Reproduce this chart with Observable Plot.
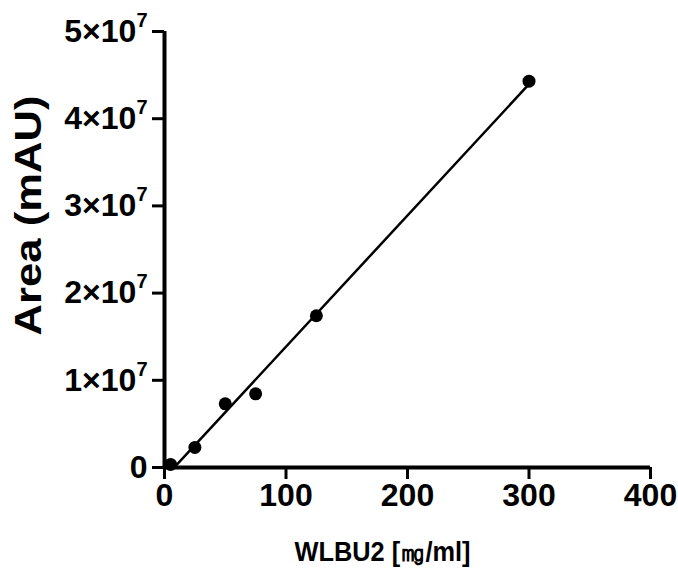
<!DOCTYPE html>
<html><head><meta charset="utf-8">
<script src="https://cdn.jsdelivr.net/npm/d3@7"></script>
<script src="https://cdn.jsdelivr.net/npm/@observablehq/plot@0.6"></script>
<style>body{margin:0;background:#fff}</style>
</head><body><div id="chart"></div>
<script>
const concentration = [5, 25, 50, 75, 125, 300];
const area = [3.5e5, 2.3e6, 7.3e6, 8.45e6, 1.74e7, 4.43e7];
const xTicks = [0, 100, 200, 300, 400];
const yTicks = [0, 1e7, 2e7, 3e7, 4e7, 5e7];
const yTickLabels = ["0", "1×10^7", "2×10^7", "3×10^7", "4×10^7", "5×10^7"];
const xTitle = "WLBU2 [㎎/ml]";
const yTitle = "Area (mAU)";
const data = concentration.map((c, i) => ({c, a: area[i]}));

const chart = Plot.plot({
  width: 678, height: 572,
  marginLeft: 164, marginRight: 28, marginTop: 31, marginBottom: 105,
  style: {fontFamily: "'Liberation Sans', Arial, sans-serif", background: "white", color: "black"},
  x: {domain: [0, 400]},
  y: {domain: [0, 5e7]},
  marks: [
    Plot.axisX({ticks: xTicks, tickSize: 12, tickPadding: 4, strokeWidth: 3, fontSize: 32, label: null}),
    Plot.axisY({ticks: yTicks, tickSize: 12, tickPadding: 5, strokeWidth: 3, fontSize: 32, label: null,
      tickFormat: d => yTickLabels[yTicks.indexOf(d)]}),
    Plot.ruleX([0], {strokeWidth: 4}),
    Plot.ruleY([0], {strokeWidth: 4}),
    Plot.linearRegressionY(data, {x: "c", y: "a", ci: 0, stroke: "black", strokeWidth: 2.5, clip: true}),
    Plot.dot(data, {x: "c", y: "a", r: 6.5, fill: "black"}),
    Plot.text([yTitle], {frameAnchor: "left", textAnchor: "middle", lineAnchor: "middle", rotate: -90, dx: -135, dy: -34, fontSize: 37, fontWeight: "bold"}),
    Plot.text([xTitle], {frameAnchor: "bottom", textAnchor: "middle", lineAnchor: "middle", dx: -25, dy: 85, fontSize: 28, fontWeight: "bold"})
  ]
});

const svg = d3.select(chart);
svg.selectAll("text").style("font-weight", "bold");
svg.selectAll('g[aria-label="x-axis tick label"] text').style("font-size", "32px").style("font-family", "'Liberation Sans', Arial, sans-serif");
svg.selectAll('g[aria-label="y-axis tick label"] text').style("font-size", "32px").style("font-family", "'Liberation Sans', Arial, sans-serif");
svg.selectAll('g[aria-label="y-axis tick label"] text').each(function() {
  const t = this.textContent;
  if (t.includes("^")) {
    const [b, e] = t.split("^");
    const sel = d3.select(this);
    sel.text(null);
    sel.append("tspan").text(b);
    sel.append("tspan").style("font-size", "20px").attr("dy", "-0.75em").text(e);
  }
});
svg.selectAll("text").filter(function() { return this.textContent === yTitle; })
  .attr("textLength", 240).attr("lengthAdjust", "spacingAndGlyphs");
svg.selectAll("text").filter(function() { return this.textContent === xTitle; })
  .attr("textLength", 176).attr("lengthAdjust", "spacingAndGlyphs");

document.getElementById("chart").appendChild(chart);
</script>
</body></html>
